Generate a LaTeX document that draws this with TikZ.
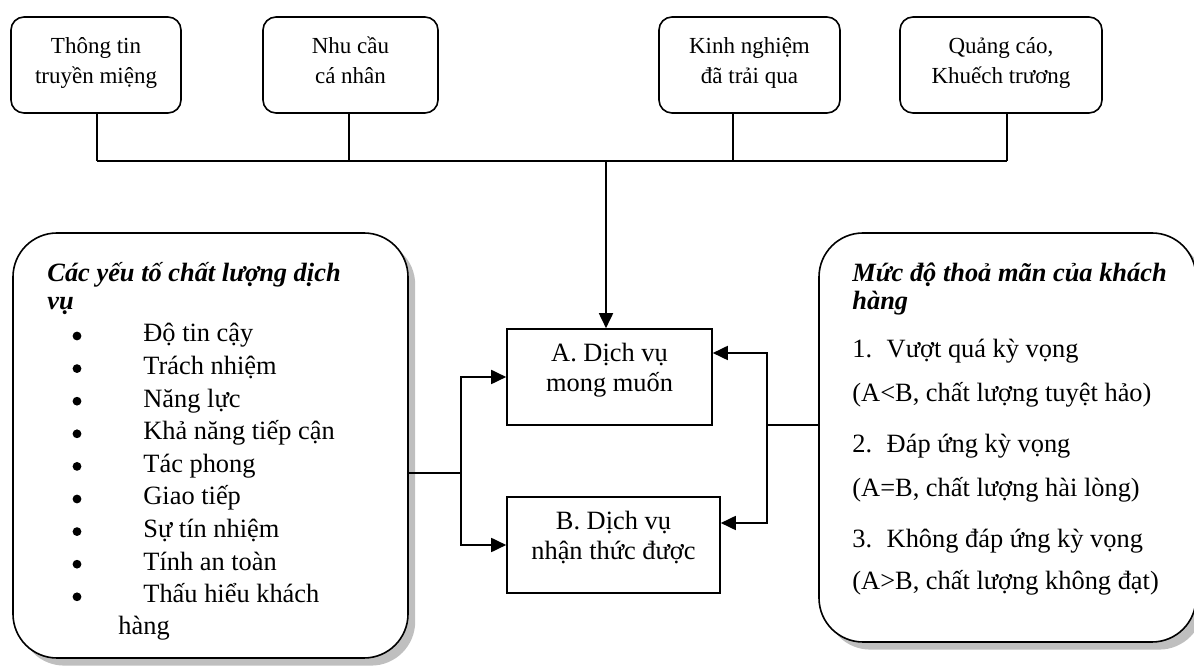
\documentclass[tikz,border=0pt]{standalone}
\usepackage{fontspec}
\setmainfont{Liberation Serif}
\usetikzlibrary{arrows.meta,shadows}

\begin{document}
\begin{tikzpicture}[x=0.5pt,y=-0.5pt,
    every node/.style={font=\fontsize{13.2}{15}\selectfont},
    topbox/.style={draw, line width=0.8pt, rounded corners=6.5pt, align=center,
      font=\fontsize{11.5}{15}\selectfont, minimum width=#1, minimum height=48pt, inner sep=0pt,
      execute at begin node=\strut, execute at end node=\strut},
    svcbox/.style={draw, line width=0.8pt, align=center,
      minimum width=#1, minimum height=48pt, inner sep=0pt,
      execute at begin node=\strut, execute at end node={\rule[-9.5pt]{0pt}{9.5pt}}},
    bigbox/.style={draw, line width=0.8pt, rounded corners=22pt, fill=white, inner sep=0pt,
      drop shadow={shadow xshift=3.6pt, shadow yshift=-3.8pt, fill=black!25, opacity=1}},
    txt/.style={anchor=base west, inner sep=0pt},
    headtxt/.style={txt, font=\fontsize{13.2}{15}\selectfont\bfseries\itshape},
    bullet/.style={circle, fill=black, inner sep=0pt, minimum size=4.4pt},
    conn/.style={line width=0.75pt},
    arr/.style={line width=0.9pt, -{Triangle[length=7.5pt,width=7pt]}}]
    \useasboundingbox (0,0) rectangle (1194,672);
    \clip (0,0) rectangle (1194,672);
    % First, locate each of the nodes and name them
    \node[topbox=85pt] (word) at (96,65) {Thông tin\\truyền miệng};
    \node[topbox=87.5pt] (need) at (350.5,65) {Nhu cầu\\cá nhân};
    \node[topbox=90.5pt] (past) at (749.5,65) {Kinh nghiệm\\đã trải qua};
    \node[topbox=101pt] (ads) at (1001,65) {Quảng cáo,\\Khuếch trương};
    \node[svcbox=102.5pt] (svcA) at (609.5,377) {A. Dịch vụ\\mong muốn};
    \node[svcbox=106.5pt] (svcB) at (613.5,545) {B. Dịch vụ\\nhận thức được};
    \node[bigbox, minimum width=197.5pt, minimum height=212.5pt] (factors) at (210.5,445.5) {};
    \node[bigbox, minimum width=188.5pt, minimum height=204.5pt] (satisf) at (1007.5,437.5) {};
    % the points where the lines meet
    \coordinate (bus1) at (97,161);
    \coordinate (bus2) at (349,161);
    \coordinate (bus3) at (733,161);
    \coordinate (bus4) at (1007,161);
    \coordinate (busmid) at (606,161);
    \coordinate (lsplit) at (461,473);
    \coordinate (rsplit) at (767,425);
    \coordinate (rA) at (767,353);
    \coordinate (rB) at (767,523);
    % texts of the left box
    \node[headtxt] (ftitle1) at (47,282) {Các yếu tố chất lượng dịch};
    \node[headtxt] (ftitle2) at (47,310) {vụ};
    \foreach \item [count=\i] in {Độ tin cậy, Trách nhiệm, Năng lực, Khả năng tiếp cận,
        Tác phong, Giao tiếp, Sự tín nhiệm, Tính an toàn, Thấu hiểu khách} {
      \node[bullet] (dot\i) at (77,{336+(\i-1)*32.6}) {};
      \node[txt] (item\i) at (143,{342+(\i-1)*32.6}) {\item};
    }
    \node[txt] (item10) at (118,635) {hàng};
    % texts of the right box
    \node[headtxt] (stitle1) at (852,282) {Mức độ thoả mãn của khách};
    \node[headtxt] (stitle2) at (852,310) {hàng};
    \node[txt] (lev1) at (852,358) {1.\hspace{0.55em}Vượt quá kỳ vọng};
    \node[txt] (lev1b) at (852,402) {(A<B, chất lượng tuyệt hảo)};
    \node[txt] (lev2) at (852,453) {2.\hspace{0.55em}Đáp ứng kỳ vọng};
    \node[txt] (lev2b) at (852,497) {(A=B, chất lượng hài lòng)};
    \node[txt] (lev3) at (852,548) {3.\hspace{0.55em}Không đáp ứng kỳ vọng};
    \node[txt] (lev3b) at (852,590) {(A>B, chất lượng không đạt)};
    % Now draw the lines
    \draw[conn] (word.south -| bus1) -- (bus1);
    \draw[conn] (need.south -| bus2) -- (bus2);
    \draw[conn] (past.south -| bus3) -- (bus3);
    \draw[conn] (ads.south -| bus4) -- (bus4);
    \draw[conn] (bus1) -- (bus4);
    \draw[arr] (busmid) -- (svcA.north -| busmid);
    \draw[conn] (factors.east |- lsplit) -- (lsplit);
    \draw[arr] (lsplit) |- (svcA.west);
    \draw[arr] (lsplit) |- (svcB.west);
    \draw[conn] (satisf.west |- rsplit) -- (rsplit);
    \draw[arr] (rsplit) -- (rA) -- (svcA.east |- rA);
    \draw[arr] (rsplit) -- (rB) -- (svcB.east |- rB);
  \end{tikzpicture}
\end{document}
